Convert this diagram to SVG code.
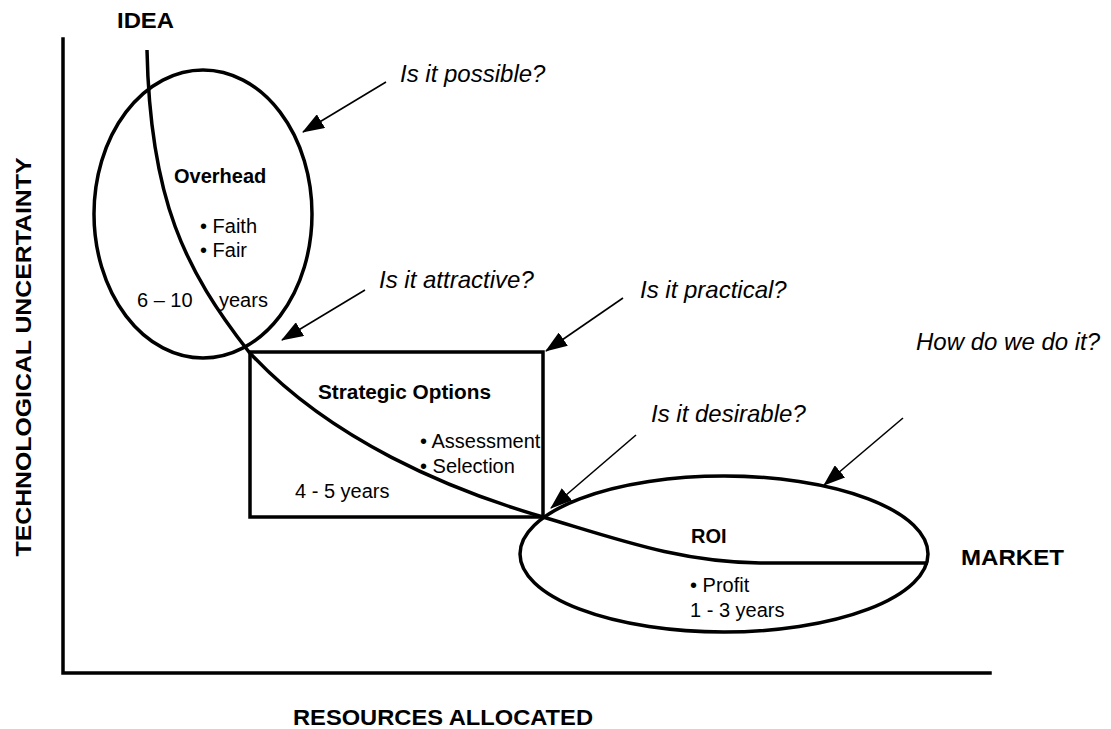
<svg xmlns="http://www.w3.org/2000/svg" width="1111" height="729" viewBox="0 0 1111 729">
  <style>
    .shape { fill: none; stroke: #000; stroke-width: 3.5; }
    .axis { fill: none; stroke: #000; stroke-width: 3.5; stroke-linecap: square; }
    .pointer { fill: none; stroke: #000; stroke-width: 1.6; marker-end: url(#head); }
    text { font-family: "Liberation Sans", Arial, sans-serif; fill: #000; }
    .title { font-size: 22px; font-weight: bold; }
    .head { font-size: 20px; font-weight: bold; }
    .body { font-size: 20px; }
    .ask { font-size: 24px; font-style: italic; }
  </style>
  <defs>
    <marker id="head" viewBox="0 0 22 16" refX="21" refY="8" markerWidth="22" markerHeight="16" markerUnits="userSpaceOnUse" orient="auto">
      <path d="M0,0 L22,8 L0,16 z" fill="#000"/>
    </marker>
  </defs>

  <rect width="1111" height="729" fill="#fff"/>

  <!-- axes and their titles -->
  <g id="axes">
    <path class="axis" d="M63,39 V673 H990"/>
    <text class="title" x="117" y="28" textLength="57" lengthAdjust="spacingAndGlyphs">IDEA</text>
    <text class="title" x="961" y="565" textLength="103" lengthAdjust="spacingAndGlyphs">MARKET</text>
    <text class="title" x="293" y="725" textLength="300" lengthAdjust="spacingAndGlyphs">RESOURCES ALLOCATED</text>
    <text class="title" transform="translate(31,357) rotate(-90)" x="0" y="0" text-anchor="middle" textLength="399" lengthAdjust="spacingAndGlyphs">TECHNOLOGICAL UNCERTAINTY</text>
  </g>

  <!-- development trajectory from idea to market -->
  <g id="trajectory">
    <path class="shape" d="M147,50 C150,200 185,270 249,352 C330,440 450,490 543,517 C620,540 680,562 760,563 L928,563"/>
  </g>

  <g id="node-overhead">
    <ellipse class="shape" cx="203" cy="214" rx="109" ry="144"/>
    <text class="head" x="174" y="183">Overhead</text>
    <text class="body" x="200" y="233">• Faith</text>
    <text class="body" x="200" y="257">• Fair</text>
    <text class="body" x="137" y="307">6 – 10</text>
    <text class="body" x="219" y="307">years</text>
  </g>

  <g id="node-strategic">
    <rect class="shape" x="250" y="352" width="293" height="165"/>
    <text class="head" x="318" y="399" textLength="173" lengthAdjust="spacingAndGlyphs">Strategic Options</text>
    <text class="body" x="420" y="448">• Assessment</text>
    <text class="body" x="420" y="473">• Selection</text>
    <text class="body" x="295" y="498">4 - 5 years</text>
  </g>

  <g id="node-roi">
    <ellipse class="shape" cx="724" cy="554" rx="204" ry="78"/>
    <text class="head" x="691" y="543">ROI</text>
    <text class="body" x="690" y="592">• Profit</text>
    <text class="body" x="690" y="617">1 - 3 years</text>
  </g>

  <!-- question callouts -->
  <g id="connectors">
    <line class="pointer" x1="386" y1="82" x2="303" y2="132"/>
    <line class="pointer" x1="365" y1="290" x2="282" y2="340"/>
    <line class="pointer" x1="623" y1="298" x2="546" y2="351"/>
    <line class="pointer" x1="636" y1="435" x2="551" y2="508"/>
    <line class="pointer" x1="903" y1="418" x2="824" y2="485"/>
  </g>

  <g id="questions">
    <text class="ask" x="400" y="82">Is it possible?</text>
    <text class="ask" x="379" y="288">Is it attractive?</text>
    <text class="ask" x="640" y="298">Is it practical?</text>
    <text class="ask" x="651" y="422">Is it desirable?</text>
    <text class="ask" x="916" y="350">How do we do it?</text>
  </g>
</svg>
